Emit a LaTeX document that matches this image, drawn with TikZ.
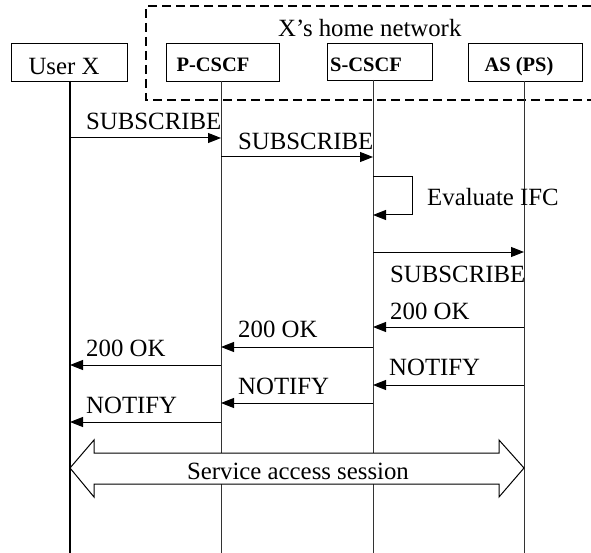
\documentclass[tikz,border=0pt]{standalone}
\usepackage{fontspec}
\setmainfont{Liberation Serif}
\usetikzlibrary{arrows.meta}
\tikzset{
  box/.style={draw, line width=0.9pt, inner sep=0pt},
  boxtext/.style={anchor=base, font=\fontsize{20.5}{21}\selectfont\bfseries, inner sep=0pt},
  lbl/.style={anchor=base west, font=\fontsize{24.8}{25}\selectfont, inner sep=0pt},
  life/.style={line width=0.8pt, black!80},
  msg/.style={line width=1pt, -{Triangle[length=13pt,width=10pt]}},
  netbox/.style={line width=1.5pt, dash pattern=on 9pt off 5pt},
}
\begin{document}
\begin{tikzpicture}[x=1pt,y=-1pt]
\useasboundingbox (0,0) rectangle (591,553);
% home network (open on the right)
\coordinate (n1) at (591,6);
\coordinate (n2) at (146,6);
\coordinate (n3) at (146,100);
\coordinate (n4) at (591,100);
\draw[netbox] (n1) -- (n2) -- (n3) -- (n4);
\node[lbl] (net) at (278,37) {X’s home network};
% entity boxes
\node[box, minimum width=116pt, minimum height=38pt] (ub) at (69,62) {};
\node[box, minimum width=113pt, minimum height=38pt] (pb) at (222.5,62) {};
\node[box, minimum width=105pt, minimum height=37pt] (sb) at (379.5,61.5) {};
\node[box, minimum width=114pt, minimum height=38pt] (ab) at (525,62) {};
\node[lbl, anchor=base] (ut) at (64,75) {User X};
\node[boxtext] (pt) at (213,72) {P-CSCF};
\node[boxtext] (st) at (366,72) {S-CSCF};
\node[boxtext] (at) at (519,72) {AS (PS)};
% lifelines
\coordinate (u0) at (70,81); \coordinate (ue) at (70,553);
\coordinate (p0) at (221,81); \coordinate (pe) at (221,553);
\coordinate (s0) at (373,80); \coordinate (se) at (373,553);
\coordinate (a0) at (524,81); \coordinate (ae) at (524,553);
\draw[life, line width=1.2pt, black] (u0) -- (ue);
\draw[life] (p0) -- (pe);
\draw[life] (s0) -- (se);
\draw[life] (a0) -- (ae);
% messages
\coordinate (m1a) at (70,138);  \coordinate (m1b) at (221,138);
\coordinate (m2a) at (221,157); \coordinate (m2b) at (373,157);
\coordinate (l1) at (373,177); \coordinate (l2) at (412,177);
\coordinate (l3) at (412,215); \coordinate (l4) at (373,215);
\coordinate (m4a) at (373,252); \coordinate (m4b) at (524,252);
\coordinate (m5a) at (524,327); \coordinate (m5b) at (373,327);
\coordinate (m6a) at (373,347); \coordinate (m6b) at (221,347);
\coordinate (m7a) at (221,365); \coordinate (m7b) at (70,365);
\coordinate (m8a) at (524,385); \coordinate (m8b) at (373,385);
\coordinate (m9a) at (373,403); \coordinate (m9b) at (221,403);
\coordinate (m10a) at (221,422); \coordinate (m10b) at (70,422);
\draw[msg] (m1a) -- (m1b);
\draw[msg] (m2a) -- (m2b);
\draw[msg] (l1) -- (l2) -- (l3) -- (l4);
\draw[msg] (m4a) -- (m4b);
\draw[msg] (m5a) -- (m5b);
\draw[msg] (m6a) -- (m6b);
\draw[msg] (m7a) -- (m7b);
\draw[msg] (m8a) -- (m8b);
\draw[msg] (m9a) -- (m9b);
\draw[msg] (m10a) -- (m10b);
\node[lbl] (t1) at (86,130) {SUBSCRIBE};
\node[lbl] (t2) at (238,150) {SUBSCRIBE};
\node[lbl] (t3) at (427,206) {Evaluate IFC};
\node[lbl] (t4) at (390,282) {SUBSCRIBE};
\node[lbl] (t5) at (390,319) {200 OK};
\node[lbl] (t6) at (238,337) {200 OK};
\node[lbl] (t7) at (86,356) {200 OK};
\node[lbl] (t8) at (389,375) {NOTIFY};
\node[lbl] (t9) at (238,394) {NOTIFY};
\node[lbl] (t10) at (86,413) {NOTIFY};
% service access session double arrow
\coordinate (d1) at (70,468);
\coordinate (d2) at (94,440);
\coordinate (d3) at (94,453);
\coordinate (d4) at (499,453);
\coordinate (d5) at (499,440);
\coordinate (d6) at (524,468);
\coordinate (d7) at (499,497);
\coordinate (d8) at (499,484);
\coordinate (d9) at (94,484);
\coordinate (d10) at (94,497);
\draw[fill=white, line width=1pt, line join=miter]
  (d1) -- (d2) -- (d3) -- (d4) -- (d5) -- (d6) -- (d7) -- (d8) -- (d9) -- (d10) -- cycle;
\node[lbl, anchor=base] (sas) at (298,479) {Service access session};
\end{tikzpicture}
\end{document}
